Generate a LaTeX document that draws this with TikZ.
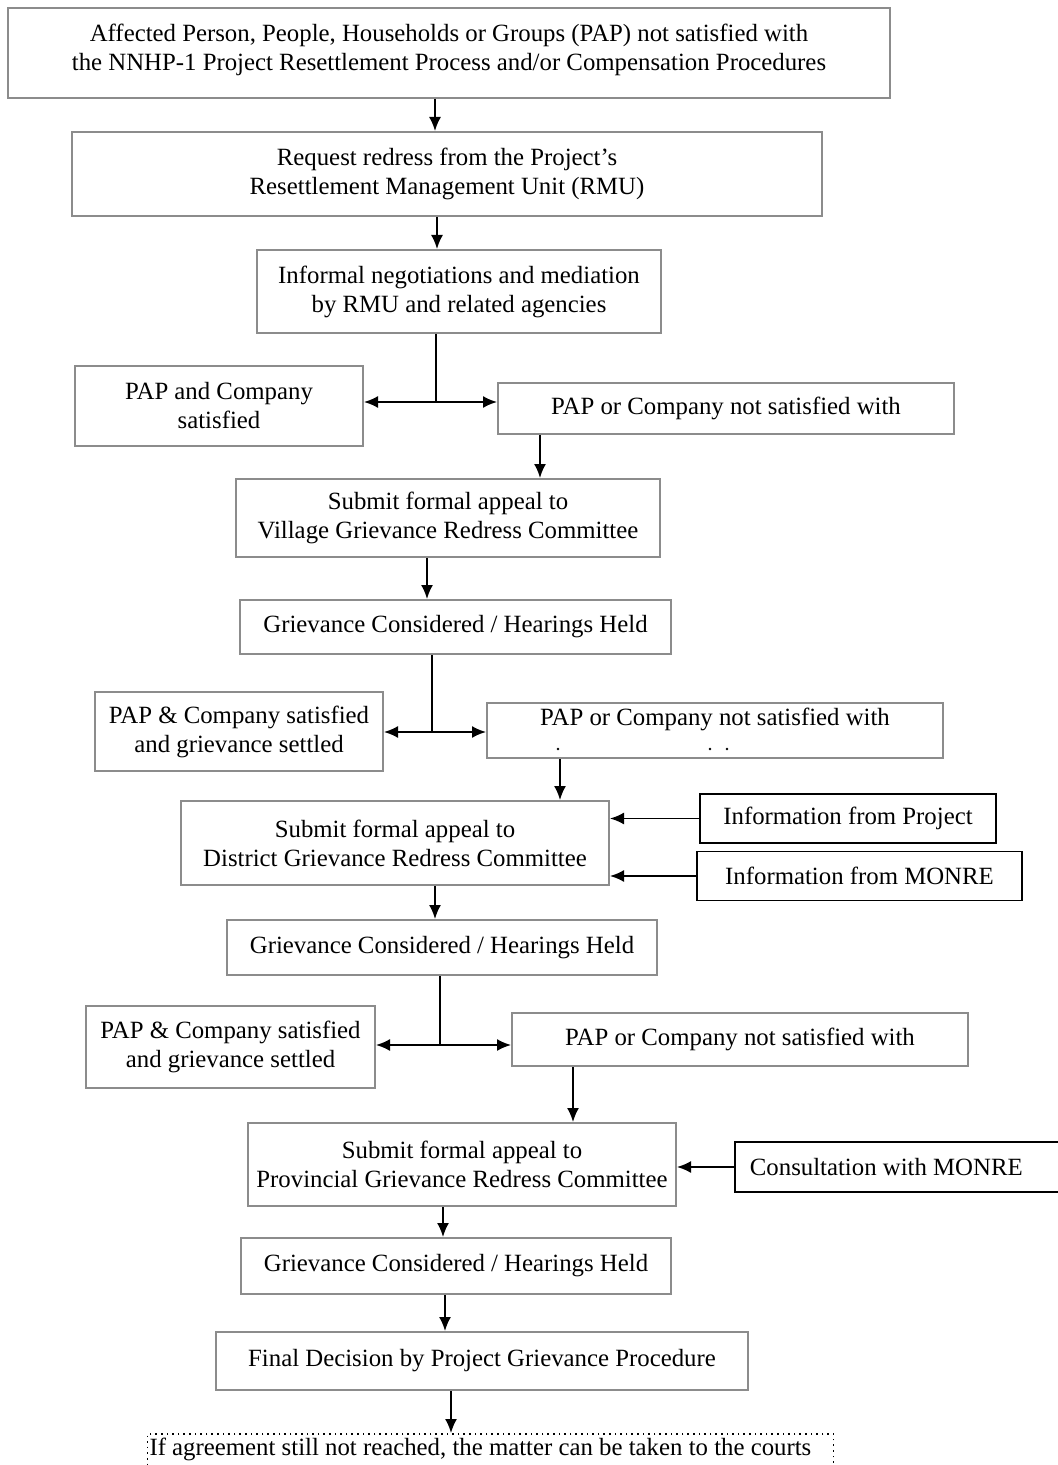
\documentclass[tikz,border=0pt]{standalone}
\usepackage{fontspec}
\setmainfont{Liberation Serif}
\usetikzlibrary{arrows.meta,positioning,calc}
\tikzset{
	box/.style={draw=black!45, line width=1pt, align=center, inner sep=2pt, font=\fontsize{12.4}{14.5}\selectfont},
	sidebox/.style={draw, line width=0.9pt, align=center, inner sep=2pt, font=\fontsize{12.4}{14.5}\selectfont},
	courtbox/.style={draw, dotted, line width=0.8pt, anchor=north, align=flush left, inner xsep=1pt, inner ysep=2pt, text depth=20pt, font=\fontsize{12.4}{14.5}\selectfont},
	flow/.style={-{Latex[length=7pt,width=6pt]}, line width=0.9pt},
	link/.style={line width=0.9pt}
}

\begin{document}
\begin{tikzpicture}[x=0.5pt, y=-0.5pt]
	\useasboundingbox (0,0) rectangle (1057,1465);
	% main column
	\node[box, minimum width=441pt, minimum height=45pt, text depth=6pt] (top) at (449,53) {Affected Person, People, Households or Groups (PAP) not satisfied with\\the NNHP-1 Project Resettlement Process and/or Compensation Procedures};
	\node[box, minimum width=375pt, minimum height=42pt] (rmu) at (447,174) {Request redress from the Project's\\Resettlement Management Unit (RMU)};
	\node[box, minimum width=202pt, minimum height=41.5pt] (informal) at (459,291.5) {Informal negotiations and mediation\\by RMU and related agencies};
	\node[box, minimum width=144pt, minimum height=40pt] (sat1) at (219,406) {PAP and Company\\satisfied};
	\node[box, minimum width=228pt, minimum height=25.5pt] (not1) at (726,408.5) {PAP or Company not satisfied with};
	\node[box, minimum width=212pt, minimum height=39pt] (village) at (448,518) {Submit formal appeal to\\Village Grievance Redress Committee};
	\node[box, minimum width=215.5pt, minimum height=27pt] (hear1) at (455.5,627) {Grievance Considered / Hearings Held};
	\node[box, minimum width=144pt, minimum height=39.5pt] (sat2) at (239,731.5) {PAP \& Company satisfied\\and grievance settled};
	\node[box, minimum width=228pt, minimum height=27.5pt] (not2) at (715,730.5) {PAP or Company not satisfied with\\[-1pt]};
	\node[box, minimum width=214pt, minimum height=42pt] (district) at (395,843) {Submit formal appeal to\\District Grievance Redress Committee};
	\node[sidebox, minimum width=148pt, minimum height=24.5pt] (infoproj) at (848,818.5) {Information from Project};
	\node[sidebox, minimum width=162.5pt, minimum height=24.5pt] (infomonre) at (859.5,876) {Information from MONRE};
	\node[box, minimum width=215pt, minimum height=27.5pt] (hear2) at (442,947.5) {Grievance Considered / Hearings Held};
	\node[box, minimum width=144.5pt, minimum height=41pt] (sat3) at (230.5,1047) {PAP \& Company satisfied\\and grievance settled};
	\node[box, minimum width=228pt, minimum height=26.5pt] (not3) at (740,1039.5) {PAP or Company not satisfied with};
	\node[box, minimum width=214pt, minimum height=41.5pt] (province) at (462,1164.5) {Submit formal appeal to\\Provincial Grievance Redress Committee};
	\node[sidebox, anchor=west, minimum height=25pt, inner xsep=7.5pt, text width=153pt, align=flush left] (consult) at (734,1167) {Consultation with MONRE};
	\node[box, minimum width=215pt, minimum height=28pt] (hear3) at (456,1266) {Grievance Considered / Hearings Held};
	\node[box, minimum width=266pt, minimum height=29pt] (final) at (482,1361) {Final Decision by Project Grievance Procedure};
	\node[courtbox, text width=341pt] (courts) at (490.5,1433) {If agreement still not reached, the matter can be taken to the courts};

	% traces of a cut-off word
	\foreach \dx in {558,710,727}
		\fill (\dx,749) circle (0.7pt);

	% junctions
	\coordinate (j1) at (436,402);
	\coordinate (j2) at (432,732);
	\coordinate (j3) at (440,1045);

	% connectors
	\draw[flow] ([xshift=-7pt]top.south) -- ([xshift=-7pt]top.south |- rmu.north);
	\draw[flow] ([xshift=-5pt]rmu.south) -- ([xshift=-5pt]rmu.south |- informal.north);
	\draw[link] (informal.south -| j1) -- (j1);
	\draw[flow] (j1) -- (j1 -| sat1.east);
	\draw[flow] (j1) -- (j1 -| not1.west);
	\draw[flow] ([xshift=-93pt]not1.south) -- ([xshift=-93pt]not1.south |- village.north);
	\draw[flow] ([xshift=-10.5pt]village.south) -- ([xshift=-10.5pt]village.south |- hear1.north);
	\draw[link] (hear1.south -| j2) -- (j2);
	\draw[flow] (j2) -- (j2 -| sat2.east);
	\draw[flow] (j2) -- (j2 -| not2.west);
	\draw[flow] ([xshift=-77.5pt]not2.south) -- ([xshift=-77.5pt]not2.south |- district.north);
	\draw[flow] (infoproj.west) -- (infoproj.west -| district.east);
	\draw[flow] (infomonre.west) -- (infomonre.west -| district.east);
	\draw[flow] ([xshift=20pt]district.south) -- ([xshift=20pt]district.south |- hear2.north);
	\draw[link] (hear2.south -| j3) -- (j3);
	\draw[flow] (j3) -- (j3 -| sat3.east);
	\draw[flow] (j3) -- (j3 -| not3.west);
	\draw[flow] ([xshift=-83.5pt]not3.south) -- ([xshift=-83.5pt]not3.south |- province.north);
	\draw[flow] (consult.west) -- (consult.west -| province.east);
	\draw[flow] ([xshift=-9.5pt]province.south) -- ([xshift=-9.5pt]province.south |- hear3.north);
	\draw[flow] ([xshift=-5.5pt]hear3.south) -- ([xshift=-5.5pt]hear3.south |- final.north);
	\draw[flow] ([xshift=-15.5pt]final.south) -- ([xshift=-15.5pt]final.south |- courts.north);
\end{tikzpicture}
\end{document}
